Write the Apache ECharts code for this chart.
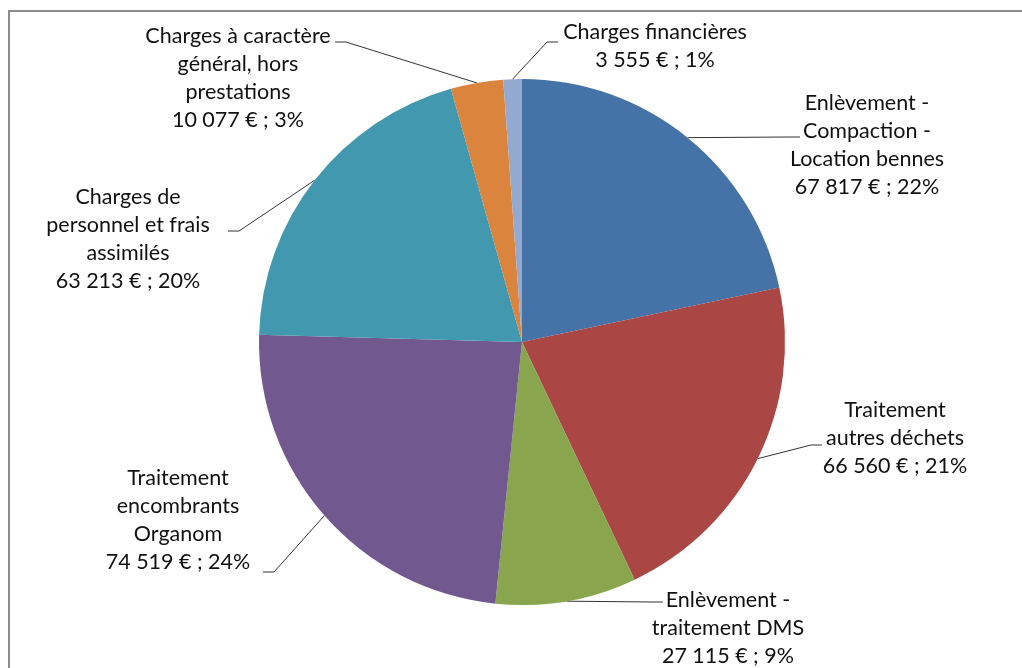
<!DOCTYPE html>
<html><head><meta charset="utf-8">
<script src="https://cdn.jsdelivr.net/npm/echarts@6/dist/echarts.min.js"></script>
<style>html,body{margin:0;padding:0;background:#fff}#c{width:1022px;height:668px}</style>
</head><body><div id="c"></div>
<script>
const categories = ['Enlèvement -\nCompaction -\nLocation bennes', 'Traitement\nautres déchets', 'Enlèvement -\ntraitement DMS', 'Traitement\nencombrants\nOrganom', 'Charges de\npersonnel et frais\nassimilés', 'Charges à caractère\ngénéral, hors\nprestations', 'Charges financières'];
const values = [67817, 66560, 27115, 74519, 63213, 10077, 3555];
const colors = ['#4572A7', '#AA4643', '#89A54E', '#71588F', '#4198AF', '#DB843D', '#93A9CF'];

// label layout (first-line centre of each label, and where its leader line meets it)
const labelPos = [[867, 103], [895, 410], [728, 600], [178, 478], [128, 197], [238, 36], [655, 32]];
const lineEnd = [[800, 137], [822, 445], [663, 602], [263, 572], [228, 231], [335, 42], [558, 42]];
const lineH = 28;

function fmt(v) { return String(v).replace(/\B(?=(\d{3})+(?!\d))/g, '\u202f'); }

const chart = echarts.init(document.getElementById('c'), null, { renderer: 'canvas' });
chart.setOption({
  animation: false,
  backgroundColor: '#fff',
  graphic: [{
    type: 'rect', shape: { x: 9, y: 11, width: 1100, height: 800 },
    style: { fill: 'none', stroke: '#8a8a8a', lineWidth: 2 }, silent: true
  }],
  series: [{
    type: 'pie',
    center: [522, 342],
    radius: 263,
    startAngle: 90,
    clockwise: true,
    avoidLabelOverlap: false,
    data: categories.map((c, i) => ({ name: c, value: values[i], itemStyle: { color: colors[i] } })),
    itemStyle: { borderWidth: 0 },
    label: {
      show: true,
      position: 'outside',
      fontFamily: 'Lato',
      fontSize: 21.5,
      lineHeight: lineH,
      color: '#111',
      formatter: p => p.name + '\n' + fmt(p.value) + '\u202f€ ; ' + Math.round(p.percent) + '%'
    },
    labelLine: { show: true, length: 10, length2: 10, lineStyle: { color: '#333', width: 1 } },
    labelLayout: function (p) {
      const i = p.dataIndex;
      const pts = p.labelLinePoints;
      const p0 = pts ? pts[0] : null;
      const e = lineEnd[i];
      const s = p0 && e[0] > p0[0] ? -1 : 1;
      const out = { x: labelPos[i][0], y: labelPos[i][1] - lineH / 2, align: 'center', verticalAlign: 'top' };
      if (p0) out.labelLinePoints = [p0, [e[0] + s * 11, e[1]], e];
      return out;
    },
    emphasis: { disabled: true }
  }]
});
</script></body></html>
